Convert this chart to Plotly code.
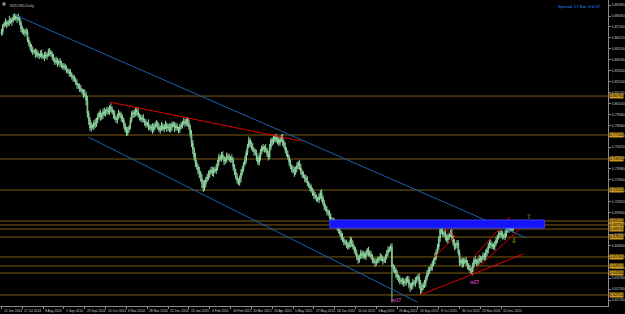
import plotly.graph_objects as go

# ---------------- data ----------------
first_open = 0.8665
closes = [
 0.8680,0.8735,0.8752,0.8771,0.8748,0.8761,0.8790,0.8770,0.8789,0.8815,
 0.8827,0.8800,0.8812,0.8808,0.8761,0.8705,0.8677,0.8690,0.8668,0.8677,
 0.8602,0.8570,0.8537,0.8505,0.8490,0.8502,0.8470,0.8481,0.8455,0.8462,
 0.8478,0.8450,0.8444,0.8465,0.8448,0.8462,0.8495,0.8490,0.8470,0.8444,
 0.8420,0.8397,0.8410,0.8385,0.8402,0.8388,0.8365,0.8350,0.8360,0.8335,
 0.8322,0.8310,0.8294,0.8280,0.8262,0.8245,0.8229,0.8205,0.8182,0.8170,
 0.8148,0.8135,0.8120,0.8098,0.8089,0.8042,0.7920,0.7855,0.7780,0.7800,
 0.7790,0.7830,0.7815,0.7855,0.7890,0.7921,0.7880,0.7902,0.7935,0.7915,
 0.7940,0.7949,0.7925,0.7977,0.7955,0.7930,0.7905,0.7870,0.7855,0.7890,
 0.7921,0.7895,0.7870,0.7855,0.7810,0.7760,0.7734,0.7765,0.7790,0.7850,
 0.7902,0.7925,0.7910,0.7949,0.7930,0.7900,0.7883,0.7860,0.7875,0.7850,
 0.7837,0.7810,0.7825,0.7790,0.7775,0.7795,0.7762,0.7790,0.7815,0.7827,
 0.7795,0.7762,0.7780,0.7805,0.7770,0.7790,0.7815,0.7780,0.7795,0.7762,
 0.7785,0.7820,0.7808,0.7780,0.7800,0.7775,0.7762,0.7790,0.7810,0.7827,
 0.7840,0.7820,0.7855,0.7830,0.7790,0.7720,0.7640,0.7580,0.7510,0.7454,
 0.7420,0.7385,0.7360,0.7310,0.7267,0.7220,0.7260,0.7300,0.7323,0.7345,
 0.7370,0.7388,0.7360,0.7395,0.7380,0.7407,0.7460,0.7510,0.7495,0.7528,
 0.7505,0.7470,0.7482,0.7520,0.7510,0.7485,0.7500,0.7482,0.7420,0.7370,
 0.7323,0.7290,0.7267,0.7310,0.7360,0.7400,0.7445,0.7482,0.7550,0.7610,
 0.7668,0.7630,0.7603,0.7580,0.7560,0.7547,0.7500,0.7454,0.7510,0.7560,
 0.7603,0.7580,0.7595,0.7575,0.7540,0.7510,0.7600,0.7668,0.7650,0.7675,
 0.7696,0.7660,0.7675,0.7640,0.7670,0.7696,0.7650,0.7610,0.7575,0.7540,
 0.7510,0.7460,0.7416,0.7395,0.7380,0.7360,0.7400,0.7430,0.7454,0.7410,
 0.7370,0.7345,0.7330,0.7313,0.7290,0.7267,0.7240,0.7220,0.7201,0.7175,
 0.7150,0.7136,0.7120,0.7108,0.7140,0.7173,0.7130,0.7080,0.7043,0.7020,
 0.7000,0.6987,0.6950,0.6921,0.6905,0.6915,0.6893,0.6870,0.6856,0.6820,
 0.6790,0.6762,0.6740,0.6720,0.6706,0.6690,0.6669,0.6700,0.6734,0.6700,
 0.6670,0.6641,0.6610,0.6575,0.6548,0.6580,0.6613,0.6590,0.6600,0.6576,
 0.6610,0.6641,0.6615,0.6595,0.6576,0.6550,0.6535,0.6520,0.6535,0.6548,
 0.6565,0.6576,0.6560,0.6540,0.6548,0.6580,0.6615,0.6641,0.6655,0.6669,
 0.6482,0.6470,0.6454,0.6420,0.6389,0.6375,0.6361,0.6345,0.6350,0.6333,
 0.6345,0.6370,0.6361,0.6320,0.6295,0.6310,0.6340,0.6333,0.6360,0.6375,
 0.6389,0.6320,0.6267,0.6290,0.6315,0.6333,0.6380,0.6426,0.6445,0.6465,
 0.6482,0.6515,0.6545,0.6576,0.6620,0.6669,0.6750,0.6828,0.6815,0.6790,
 0.6800,0.6760,0.6734,0.6765,0.6780,0.6800,0.6760,0.6710,0.6669,0.6690,
 0.6706,0.6610,0.6520,0.6545,0.6510,0.6529,0.6545,0.6520,0.6495,0.6470,
 0.6454,0.6436,0.6495,0.6548,0.6530,0.6520,0.6540,0.6560,0.6548,0.6565,
 0.6590,0.6576,0.6610,0.6641,0.6680,0.6706,0.6690,0.6675,0.6669,0.6705,
 0.6734,0.6760,0.6785,0.6800,0.6780,0.6770,0.6762,0.6800,0.6828,0.6850,
 0.6835,0.6846,0.6860,0.6828,
]
wick_up_pips = [
 28,18,22,35,15,24,38,20,22,30,24,16,28,34,18,25,30,22,17,36,
 25,30,18,28,38,16,22,34,24,18,28,36,17,25,30,20,26,34,19,23,
 29,18,36,25,16,32,23,20,28,19,30,15,25,34,22,17,28,23,30,19,
 26,35,16,23,42,33,38,22,28,34,19,25,38,20,29,17,32,23,26,36,
 19,30,25,16,34,28,22,38,19,25,30,17,28,36,23,20,32,26,16,29,
 35,22,25,19,30,38,17,23,28,34,20,26,16,36,25,19,29,32,22,28,
 17,30,23,35,20,26,34,16,25,29,38,19,22,28,32,23,17,30,26,20,
 34,25,19,29,36,23,42,28,22,38,30,25,34,19,40,28,36,23,30,38,
 22,29,34,19,26,38,23,30,20,28,35,17,25,32,22,29,19,36,26,23,
 30,38,22,28,34,25,19,38,29,23,32,20,28,36,19,25,30,22,34,26,
 17,29,23,35,20,28,32,19,25,38,22,30,26,17,34,23,29,20,36,25,
 30,19,28,23,34,38,22,29,19,26,35,23,30,20,28,38,17,25,32,22,
 28,34,23,19,30,25,36,20,29,23,32,19,26,35,22,28,17,30,25,34,
 20,29,38,23,19,32,26,22,34,25,30,20,28,36,23,17,29,25,34,22,
 26,19,30,23,35,28,20,32,25,29,19,36,23,28,30,22,26,34,20,25,
 38,30,28,23,34,22,29,19,36,25,30,23,28,35,20,26,32,22,29,25,
 28,34,42,38,25,30,22,29,36,23,32,26,20,38,28,30,23,34,26,29,
 19,35,25,30,22,28,38,23,32,20,29,25,34,19,26,36,23,30,28,22,
 32,25,29,20,36,26,23,34,28,19,30,25,35,22,29,26,32,23,28,20,
 30,25,34,22,28,38,23,29,19,32,26,25,30,22,
]
wick_dn_pips = [
 22,30,17,25,36,20,28,16,34,23,29,19,38,25,22,30,17,28,35,23,
 19,26,34,22,29,16,36,25,20,32,23,28,19,38,22,29,17,35,25,30,
 20,28,23,34,19,38,26,22,30,17,29,25,36,20,28,32,19,23,35,26,
 30,22,28,38,19,50,42,45,25,34,20,29,36,23,28,19,32,26,38,22,
 29,35,19,25,30,22,38,17,28,34,23,20,30,26,36,19,29,25,32,23,
 19,28,34,22,38,25,30,20,29,17,36,26,23,32,19,28,35,22,25,30,
 28,20,34,25,17,30,23,36,29,20,26,32,19,38,25,22,30,28,20,34,
 23,29,19,36,28,30,38,45,34,38,28,42,48,30,50,36,28,34,25,30,
 32,23,28,36,20,29,25,34,22,30,19,38,26,23,32,20,29,25,35,28,
 22,30,19,26,36,23,29,20,34,25,17,32,28,22,38,23,30,19,26,35,
 25,19,30,22,29,34,20,26,36,23,28,17,32,25,29,22,35,19,30,26,
 23,32,20,28,25,36,19,29,34,22,26,30,20,38,23,28,19,32,25,29,
 34,22,28,20,30,25,38,23,29,19,35,26,22,32,28,20,30,25,36,23,
 19,29,25,34,22,30,26,20,38,28,23,32,19,29,35,25,22,30,28,20,
 29,23,34,20,26,32,22,36,25,19,30,28,23,35,20,29,26,32,22,25,
 330,38,30,42,28,34,40,23,30,36,26,34,29,38,45,28,32,25,36,30,
 26,34,42,29,23,30,36,25,32,28,20,34,26,38,29,22,30,35,23,28,
 25,30,22,34,28,20,36,26,29,23,32,19,30,25,35,28,22,29,34,23,
 28,22,32,25,19,30,26,35,23,29,20,34,28,25,30,22,36,26,23,32,
 23,29,20,34,26,30,22,28,36,25,32,19,29,23,
]

# axis tick labels
y_tick_values = [0.8928,0.8826,0.8724,0.8622,0.8520,0.8418,0.8316,0.8214,0.8112,0.8010,
                 0.7908,0.7806,0.7704,0.7602,0.7500,0.7398,0.7296,0.7194,0.7092,0.6990,
                 0.6888,0.6786,0.6684,0.6582,0.6480,0.6378,0.6276,0.6174]
x_label_bars = [0,16,32,48,64,80,96,112,128,144,160,176,192,208,224,240,256,272,288,304,320,336,352,368,384]
x_label_texts = ["25 Jun 2014","17 Jul 2014","8 Aug 2014","1 Sep 2014","23 Sep 2014","15 Oct 2014",
                 "6 Nov 2014","28 Nov 2014","22 Dec 2014","13 Jan 2015","4 Feb 2015","26 Feb 2015",
                 "20 Mar 2015","13 Apr 2015","5 May 2015","27 May 2015","18 Jun 2015","10 Jul 2015",
                 "3 Aug 2015","25 Aug 2015","16 Sep 2015","8 Oct 2015","30 Oct 2015","23 Nov 2015",
                 "15 Dec 2015"]

# horizontal levels
levels = [0.8079,0.7715,0.7491,0.7201,0.6912,0.6875,0.6837,0.6762,0.6576,0.6492,0.6426,0.6221]

# rectangle zone (bar, price)
zone_x = [252.3, 417.2]
zone_y = [0.6846, 0.6921]

# trend lines: (x0, y0, x1, y1) in bars / prices
red_lines = [
    (82.9, 0.8023, 230.2, 0.7659),
    (337.0, 0.6875, 348.5, 0.6762),
    (348.5, 0.6762, 332.4, 0.6576),
    (363.0, 0.6576, 390.5, 0.6949),
    (361.5, 0.6426, 398.9, 0.6846),
    (321.8, 0.6221, 401.1, 0.6604),
]
blue_lines = [
    (10.3, 0.8836, 403.4, 0.6753),
    (66.8, 0.7696, 319.5, 0.6155),
]
wave_labels = [("m17", 304.2, 0.6174), ("m27", 363.7, 0.6342)]
arrows = [("⇧", 405.0, 0.6949, "#6f9a1c"), ("⇩", 393.5, 0.6725, "#b5cc1e")]

# ---------------- build ----------------
n = min(len(closes), len(wick_up_pips), len(wick_dn_pips))
bars = list(range(n))
opens = [first_open] + closes[:n - 1]
highs = [max(o, c) + u / 10000 for o, c, u in zip(opens, closes[:n], wick_up_pips[:n])]
lows = [min(o, c) - d / 10000 for o, c, d in zip(opens, closes[:n], wick_dn_pips[:n])]

FONT = "Liberation Sans"
fig = go.Figure()

shapes = []
for lv in levels:
    shapes.append(dict(type="line", xref="paper", x0=0, x1=1, yref="y", y0=lv, y1=lv,
                       line=dict(color="#7d5d12", width=1), layer="below"))

fig.add_trace(go.Candlestick(
    x=bars, open=opens, high=highs, low=lows, close=closes[:n],
    increasing=dict(line=dict(color="#8fd6a2", width=1), fillcolor="#2a6646"),
    decreasing=dict(line=dict(color="#8fd6a2", width=1), fillcolor="#0f3020"),
    whiskerwidth=0, showlegend=False, hoverinfo="skip"))

for x0, y0, x1, y1 in blue_lines:
    fig.add_trace(go.Scatter(x=[x0, x1], y=[y0, y1], mode="lines",
                             line=dict(color="#1f5fae", width=1), showlegend=False, hoverinfo="skip"))
for x0, y0, x1, y1 in red_lines:
    fig.add_trace(go.Scatter(x=[x0, x1], y=[y0, y1], mode="lines",
                             line=dict(color="#e00000", width=1), showlegend=False, hoverinfo="skip"))

shapes.append(dict(type="rect", xref="x", yref="y", x0=zone_x[0], x1=zone_x[1],
                   y0=zone_y[0], y1=zone_y[1], fillcolor="#1414ff",
                   line=dict(color="#3a3aff", width=1), layer="above"))
# small icon near title
shapes.append(dict(type="rect", xref="paper", yref="paper", x0=0.004, x1=0.009, y0=0.982, y1=0.992,
                   fillcolor="#909090", line=dict(width=0)))

annotations = []
for lv in levels:
    annotations.append(dict(xref="paper", x=1, xanchor="left", xshift=1, yref="y", y=lv,
                            text=f"{lv:.5f}", showarrow=False, bgcolor="#c99a1e",
                            font=dict(family=FONT, size=3.6, color="#000000"), borderpad=0))
for b, t in zip(x_label_bars, x_label_texts):
    annotations.append(dict(xref="x", x=b, xanchor="left", yref="paper", y=0, yanchor="top",
                            yshift=-1, text=t, showarrow=False,
                            font=dict(family=FONT, size=3.3, color="#c8c8c8")))
for t, xb, yp in wave_labels:
    annotations.append(dict(xref="x", x=xb, yref="y", y=yp, text=f"<b>{t}</b>", showarrow=False,
                            font=dict(family=FONT, size=4.5, color="#d838b8")))
for t, xb, yp, col in arrows:
    annotations.append(dict(xref="x", x=xb, yref="y", y=yp, text=t, showarrow=False,
                            font=dict(family="DejaVu Sans", size=7, color=col)))
annotations.append(dict(xref="paper", x=0.013, xanchor="left", yref="paper", y=1, yanchor="top",
                        yshift=-2, text="NZDUSD,Daily", showarrow=False,
                        font=dict(family=FONT, size=3.6, color="#c0c0c0")))
annotations.append(dict(xref="paper", x=0.992, xanchor="right", yref="paper", y=1, yanchor="top",
                        yshift=-2, text="Spread: 17 Bar: 0:6:57", showarrow=False,
                        font=dict(family=FONT, size=4.2, color="#1e8fff")))

fig.update_layout(
    width=625, height=314,
    margin=dict(l=0, r=13, t=0, b=8),
    paper_bgcolor="#000000", plot_bgcolor="#000000",
    shapes=shapes, annotations=annotations,
    xaxis=dict(range=[-1.15, 466], showgrid=False, zeroline=False, rangeslider=dict(visible=False),
               showline=True, linecolor="#8a8a8a", linewidth=1, ticks="outside", ticklen=2,
               tickcolor="#8a8a8a", tickvals=x_label_bars, showticklabels=False, fixedrange=True),
    yaxis=dict(range=[0.6118, 0.8976], side="right", showgrid=False, zeroline=False,
               showline=True, linecolor="#8a8a8a", linewidth=1, ticks="outside", ticklen=2,
               tickcolor="#8a8a8a", tickvals=y_tick_values,
               ticktext=[f"{v:.5f}" for v in y_tick_values],
               tickfont=dict(family=FONT, size=3.6, color="#c8c8c8"), fixedrange=True),
    font=dict(family=FONT),
)

fig.write_html("out.html")
